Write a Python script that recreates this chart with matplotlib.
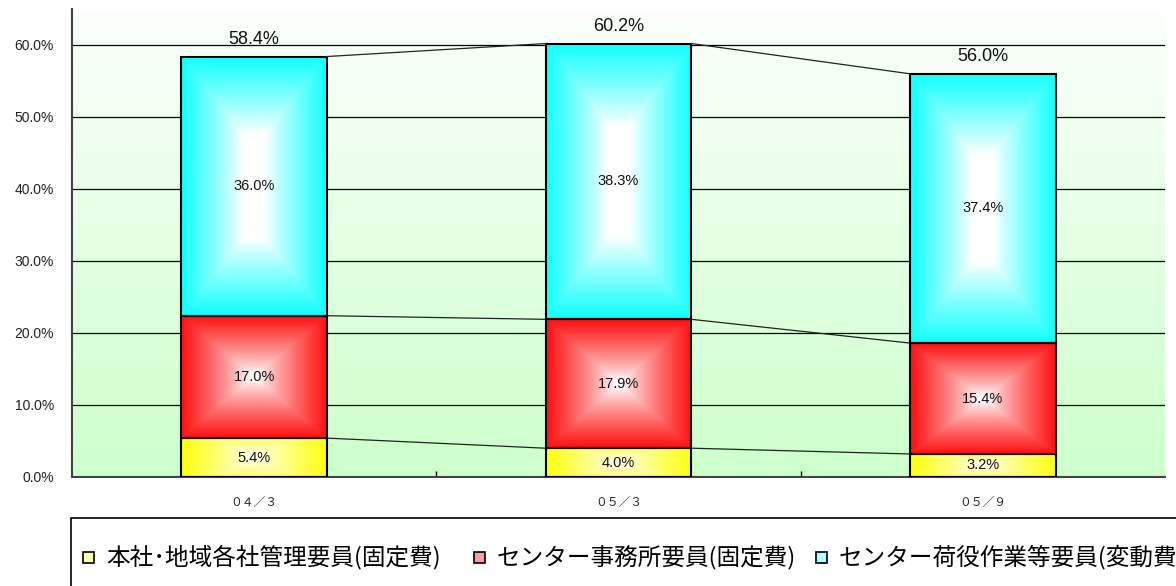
import numpy as np
import matplotlib
matplotlib.use('Agg')
import matplotlib.pyplot as plt
from matplotlib.patches import Rectangle
from matplotlib.colors import to_rgb

plt.rcParams['font.family'] = ['Liberation Sans', 'Noto Sans CJK JP']

# data
periods = ['０４／３', '０５／３', '０５／９']
series_names = ['本社･地域各社管理要員(固定費)', 'センター事務所要員(固定費)', 'センター荷役作業等要員(変動費)']
hq_staff = [5.4, 4.0, 3.2]
office_staff = [17.0, 17.9, 15.4]
handling_staff = [36.0, 38.3, 37.4]
totals = [58.4, 60.2, 56.0]

colors = ['#ffff10', '#ff1010', '#10ffff']
legend_colors = ['#ffffa8', '#ff9c9c', '#b0ffff']

W, H = 1176, 586
fig = plt.figure(figsize=(W / 100, H / 100), dpi=100)
ax = fig.add_axes([72 / W, (586 - 477) / H, (1165 - 72) / W, 468 / H])

ax.set_xlim(0, 3)
ax.set_ylim(0, 65)

# background gradient (white-ish top to mint bottom)
top_c = np.array(to_rgb('#fbfffb'))
bot_c = np.array(to_rgb('#ccffcc'))
t = np.linspace(0, 1, 256)[:, None]
bg = top_c * (1 - t) + bot_c * t
ax.imshow(bg[:, None, :], extent=(0, 3, 0, 64.3), aspect='auto', zorder=0)

ax.set_yticks(np.arange(0, 61, 10))
ax.set_yticklabels([f'{v:.1f}%' for v in np.arange(0, 61, 10)], fontsize=10)
ax.yaxis.grid(True, color='black', lw=0.9, zorder=1)
ax.set_axisbelow(True)
ax.tick_params(axis='y', length=0, pad=13, colors='#222222')

ax.set_xticks([0.5, 1.5, 2.5])
ax.set_xticklabels(periods, fontsize=8.5, family=['Noto Sans CJK JP'])
ax.set_xticks([1, 2], minor=True)
ax.tick_params(axis='x', which='major', length=0, pad=14, colors='#222222')
ax.tick_params(axis='x', which='minor', direction='in', length=4, width=1)

for s in ['top', 'right']:
    ax.spines[s].set_visible(False)
for s in ['left', 'bottom']:
    ax.spines[s].set_color('#444444')
    ax.spines[s].set_linewidth(1.5)


def grad_bar(x0, x1, y0, y1, color, a=1.0, strip=0.0, p=0.8, core=0.0):
    n = 200
    u = np.abs(np.linspace(-1, 1, n))[None, :]
    v = np.abs(np.linspace(-1, 1, n))[:, None]
    v = np.clip((v - strip) / (1 - strip), 0, 1)
    d = np.maximum(u, a * v)
    d = np.clip((d - core) / (1 - core), 0, 1) ** p
    c = np.array(to_rgb(color))
    img = np.ones((n, n, 3)) * (1 - d[..., None]) + c * d[..., None]
    ax.imshow(img, extent=(x0, x1, y0, y1), aspect='auto', zorder=2,
              interpolation='bilinear')
    ax.add_patch(Rectangle((x0, y0), x1 - x0, y1 - y0, fill=False,
                           ec='black', lw=1.5, zorder=3))


bw = 0.4
layers = [hq_staff, office_staff, handling_staff]
styles = [dict(a=0.55, strip=0.0, p=0.8),
          dict(a=1.0, strip=0.0, p=0.8, core=0.05),
          dict(a=1.0, strip=0.3, p=0.9, core=0.15)]
bottom = np.zeros(3)
for vals, col, st in zip(layers, colors, styles):
    vals = np.array(vals)
    for i in range(3):
        xc = i + 0.5
        grad_bar(xc - bw / 2, xc + bw / 2, bottom[i], bottom[i] + vals[i], col, **st)
        ax.text(xc, bottom[i] + vals[i] / 2, f'{vals[i]:.1f}%', ha='center',
                va='center', fontsize=10.5, color='#111111', zorder=4)
    top = bottom + vals
    # series lines between bars
    for i in range(2):
        ax.plot([i + 0.5 + bw / 2, i + 1.5 - bw / 2], [top[i], top[i + 1]],
                color='#222222', lw=0.9, zorder=3)
    bottom = top

for i, tot in enumerate(totals):
    ax.annotate(f'{tot:.1f}%', (i + 0.5, tot), xytext=(0, 6),
                textcoords='offset points', ha='center', va='bottom',
                fontsize=13, color='#111111', zorder=4)

# legend box (runs off the figure edge like the original)
fig.add_artist(Rectangle((71 / W, -0.1), 1.2, (586 - 518) / H + 0.1,
                         transform=fig.transFigure, fill=False, ec='black',
                         lw=1.2, clip_on=False))
sq = 11
leg_x = [83, 474, 816]
for x, name, lc in zip(leg_x, series_names, legend_colors):
    fig.add_artist(Rectangle((x / W, (586 - 557 - sq / 2) / H), sq / W, sq / H,
                             transform=fig.transFigure, fc=lc, ec='black',
                             lw=1.2))
    fig.text((x + sq + 12) / W, (586 - 557) / H, name, fontsize=17,
             family=['Noto Sans CJK JP'], va='center', ha='left')

fig.savefig('out.png', dpi=100)
